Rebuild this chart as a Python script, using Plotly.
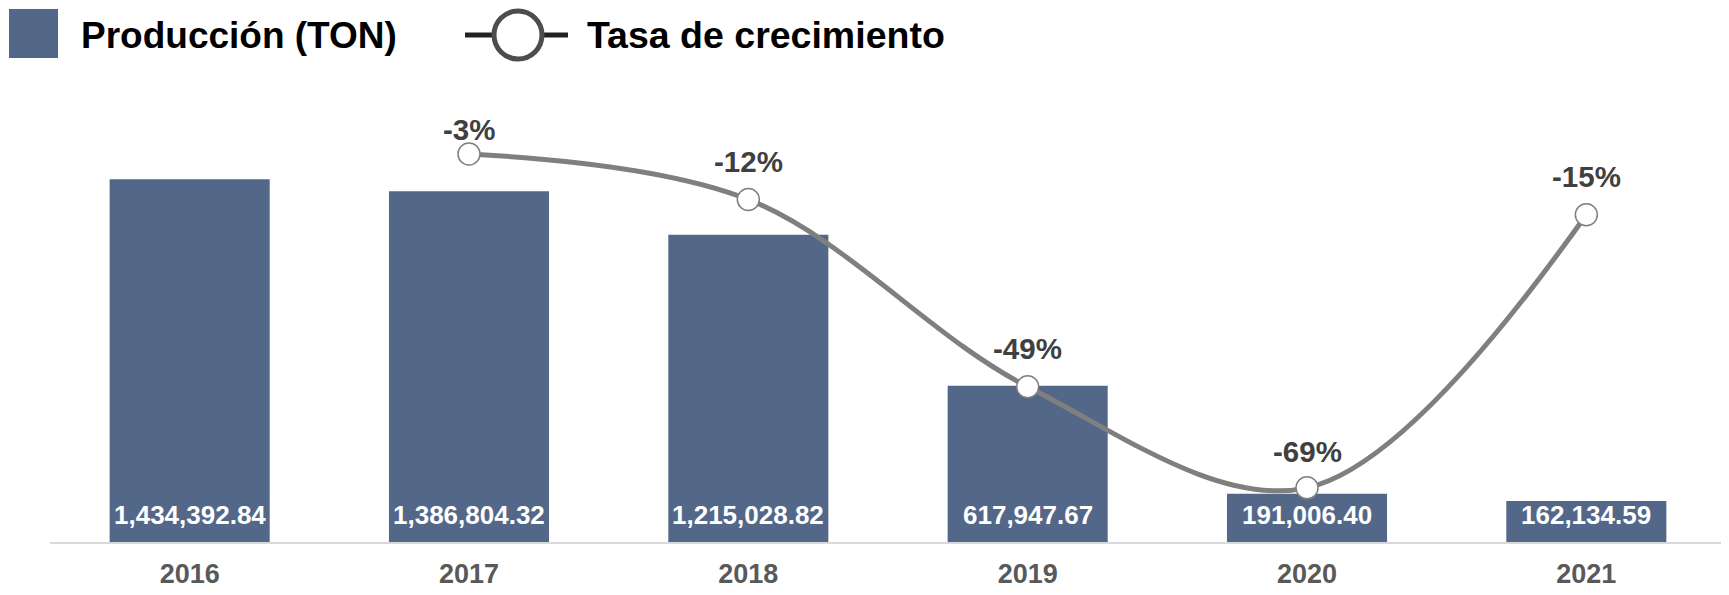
import plotly.graph_objects as go

years = ["2016", "2017", "2018", "2019", "2020", "2021"]
production_ton = [1434392.84, 1386804.32, 1215028.82, 617947.67, 191006.40, 162134.59]
growth_pct = [None, -3, -12, -49, -69, -15]

series_bar_name = "Producción (TON)"
series_line_name = "Tasa de crecimiento"

# label offsets above each growth point (px); first label sits closer to its point
growth_label_shift = [0, 24, 38, 38, 36, 38]

BAR_COLOR = "#536789"
LINE_COLOR = "#7f7f7f"
FONT = "Arial, Liberation Sans, sans-serif"

# the page body adds an 8px offset; layout below is expressed in page pixels
OFF = 8
W, H = 1729, 595
PLOT_L, PLOT_R, PLOT_T, PLOT_B = 50, 1726, 100, 542  # page pixels
ML = PLOT_L - OFF
MR = W - (PLOT_R - OFF)
MT = PLOT_T - OFF
MB = H - (PLOT_B - OFF)
PW, PH = PLOT_R - PLOT_L, PLOT_B - PLOT_T


def px(x):
    return (x - PLOT_L) / PW


def py(y):
    return (PLOT_B - y) / PH


fig = go.Figure()

fig.add_trace(go.Bar(
    x=years, y=production_ton, name=series_bar_name,
    marker=dict(color=BAR_COLOR, line=dict(width=0)),
    showlegend=False, hoverinfo="x+y",
))

fig.add_trace(go.Scatter(
    x=years, y=growth_pct, name=series_line_name, yaxis="y2",
    mode="lines+markers",
    line=dict(color=LINE_COLOR, width=5, shape="spline", smoothing=1.0),
    marker=dict(size=22, color="white", line=dict(color=LINE_COLOR, width=1.5)),
    showlegend=False, cliponaxis=False,
))

annotations = []
for i, v in enumerate(production_ton):
    annotations.append(dict(
        x=i, y=0, xref="x", yref="y", text=f"<b>{v:,.2f}</b>",
        showarrow=False, yanchor="middle", yshift=27,
        font=dict(family=FONT, size=26, color="white"),
    ))

for i, (g, s) in enumerate(zip(growth_pct, growth_label_shift)):
    if g is None:
        continue
    annotations.append(dict(
        x=i, y=g, xref="x", yref="y2", text=f"<b>{g}%</b>",
        showarrow=False, yanchor="middle", yshift=s,
        font=dict(family=FONT, size=29.5, color="#404040"),
    ))

# manual legend
shapes = [
    dict(type="rect", xref="paper", yref="paper",
         x0=px(9), x1=px(58), y0=py(58), y1=py(9),
         fillcolor=BAR_COLOR, line=dict(width=0)),
    dict(type="line", xref="paper", yref="paper",
         x0=px(465), x1=px(568), y0=py(35), y1=py(35),
         line=dict(color="#222222", width=5)),
    dict(type="circle", xref="paper", yref="paper",
         x0=px(518 - 24), x1=px(518 + 24), y0=py(35 + 24), y1=py(35 - 24),
         fillcolor="white", line=dict(color="#4d4d4d", width=5)),
]
annotations += [
    dict(x=px(79), y=py(35), xref="paper", yref="paper", xanchor="left", yanchor="middle",
         text=f"<b>{series_bar_name}</b>", showarrow=False,
         font=dict(family=FONT, size=37, color="black")),
    dict(x=px(585), y=py(35), xref="paper", yref="paper", xanchor="left", yanchor="middle",
         text=f"<b>{series_line_name}</b>", showarrow=False,
         font=dict(family=FONT, size=37.5, color="black")),
]

fig.update_layout(
    width=W, height=H,
    margin=dict(l=ML, r=MR, t=MT, b=MB, pad=0),
    paper_bgcolor="white", plot_bgcolor="white",
    bargap=0.427,
    showlegend=False,
    xaxis=dict(type="category", range=[-0.5, len(years) - 0.5], autorange=False,
               showline=True, linecolor="#d9d9d9", linewidth=2,
               showgrid=False, ticks="", zeroline=False, ticklabelstandoff=7,
               tickfont=dict(family=FONT, size=27, color="#595959", weight="bold")),
    yaxis=dict(range=[0, 1748000], autorange=False, visible=False, showgrid=False, zeroline=False),
    yaxis2=dict(range=[-79.7, 7.67], autorange=False, overlaying="y", side="right", visible=False,
                showgrid=False, zeroline=False),
    shapes=shapes,
    annotations=annotations,
)

fig.write_html("out.html")
